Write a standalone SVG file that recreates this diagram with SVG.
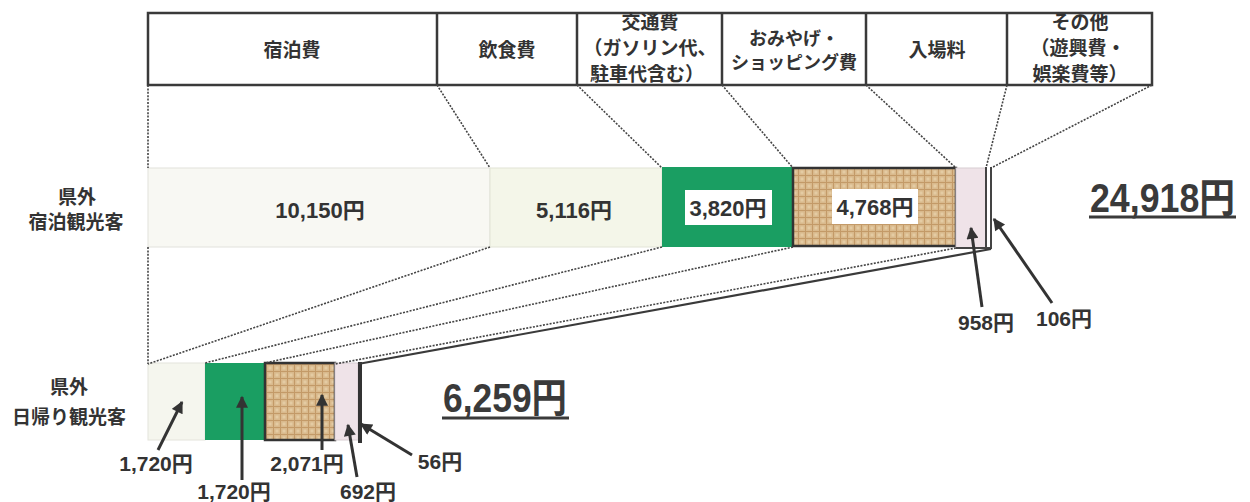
<svg xmlns="http://www.w3.org/2000/svg" width="1250" height="502" viewBox="0 0 1250 502">
<style>
.hd{font-family:"Noto Sans CJK JP","Liberation Sans",sans-serif;font-weight:bold;font-size:19px;fill:#333;text-anchor:middle}
.hd2{font-family:"Noto Sans CJK JP","Liberation Sans",sans-serif;font-weight:bold;font-size:18px;fill:#333;text-anchor:middle}
.lb{font-family:"Noto Sans CJK JP","Liberation Sans",sans-serif;font-weight:bold;font-size:19px;fill:#333;text-anchor:middle}
.num{font-family:"Liberation Sans","Noto Sans CJK JP",sans-serif;font-weight:bold;font-size:22px;fill:#333;text-anchor:middle}
.sm{font-family:"Liberation Sans","Noto Sans CJK JP",sans-serif;font-weight:bold;font-size:21px;fill:#333;text-anchor:middle}
.tot{font-family:"Liberation Sans","Noto Sans CJK JP",sans-serif;font-weight:bold;font-size:40px;fill:#3a3a3a}
.dot{fill:none;stroke:#444;stroke-width:1.6;stroke-dasharray:2 1.4}
.arr{fill:none;stroke:#333;stroke-width:3;marker-end:url(#ah)}
.green{fill:#1a9e62}
.tan{fill:url(#tex);stroke:#333;stroke-width:2.5}
.pink{fill:#efe3e8;stroke:#d8cdd2;stroke-width:1}
.wbox{fill:#fff}
</style>
<defs>
<marker id="ah" viewBox="0 0 10 10" refX="9" refY="5" markerWidth="15" markerHeight="12" markerUnits="userSpaceOnUse" orient="auto">
<path d="M0,0 L10,5 L0,10 z" fill="#333"/>
</marker>
<pattern id="tex" width="7" height="7" patternUnits="userSpaceOnUse">
<rect width="7" height="7" fill="#d9b98c"/>
<path d="M0 0.5H7M0.5 0V7" stroke="#c39a68" stroke-width="1"/>
<rect x="2.5" y="2.5" width="3" height="3" fill="#e4cba3"/>
</pattern>
</defs>

<g id="header">
<rect x="148" y="13" width="1004" height="72" fill="#fff" stroke="#3a3a3a" stroke-width="2.5"/>
<path d="M437 13V85M577 13V85M722 13V85M866 13V85M1007 13V85" stroke="#3a3a3a" stroke-width="2.5"/>
</g>
<g id="h-shukuhaku"><text class="hd" x="292" y="57">宿泊費</text></g>
<g id="h-inshoku"><text class="hd" x="507" y="57">飲食費</text></g>
<g id="h-kotsu"><text class="hd" x="650" y="29">交通費</text><text class="hd" x="650" y="55">（ガソリン代、</text><text class="hd" x="647" y="81">駐車代含む）</text></g>
<g id="h-omiyage"><text class="hd2" x="794" y="45">おみやげ・</text><text class="hd2" x="794" y="69">ショッピング費</text></g>
<g id="h-nyujo"><text class="hd" x="937" y="57">入場料</text></g>
<g id="h-sonota"><text class="hd" x="1080" y="29">その他</text><text class="hd" x="1078" y="55">（遊興費・</text><text class="hd" x="1080" y="81">娯楽費等）</text></g>

<g id="stay-label"><text class="lb" x="77" y="204">県外</text><text class="lb" x="76" y="229">宿泊観光客</text></g>
<g id="stay-shukuhaku"><rect x="148" y="168" width="342" height="79" fill="#f8f8f3" stroke="#e2e2dc" stroke-width="1"/><text class="num" x="320" y="218">10,150円</text></g>
<g id="stay-inshoku"><rect x="490" y="168" width="172" height="79" fill="#f4f6e9" stroke="#e2e4d6" stroke-width="1"/><text class="num" x="574" y="218">5,116円</text></g>
<g id="stay-kotsu"><rect class="green" x="662" y="167" width="131" height="80"/><rect class="wbox" x="685" y="190" width="87" height="35"/><text class="num" x="728" y="216">3,820円</text></g>
<g id="stay-omiyage"><rect class="tan" x="793" y="168" width="163" height="78"/><rect class="wbox" x="832" y="189" width="86" height="35"/><text class="num" x="875" y="215">4,768円</text></g>
<g id="stay-nyujo"><rect class="pink" x="956" y="168" width="30" height="80"/><text class="sm" x="986" y="330">958円</text></g>
<g id="stay-sonota"><path d="M956 248H991V167M986 167V248" fill="none" stroke="#444" stroke-width="2"/><text class="sm" x="1064" y="326">106円</text></g>
<g id="stay-total"><text class="tot" x="1090" y="212" textLength="145" lengthAdjust="spacingAndGlyphs">24,918円</text><line x1="1089" y1="217" x2="1236" y2="217" stroke="#3a3a3a" stroke-width="3"/></g>

<g id="day-label"><text class="lb" x="69" y="394">県外</text><text class="lb" x="69" y="424">日帰り観光客</text></g>
<g id="day-inshoku"><rect x="148" y="363" width="57" height="77" fill="#f5f6ee" stroke="#e4e4dc" stroke-width="1"/><text class="sm" x="156" y="471">1,720円</text></g>
<g id="day-kotsu"><rect class="green" x="205" y="363" width="60" height="77"/><text class="sm" x="234" y="499">1,720円</text></g>
<g id="day-omiyage"><rect class="tan" x="265" y="363" width="70" height="77"/><text class="sm" x="307" y="471">2,071円</text></g>
<g id="day-nyujo"><rect class="pink" x="335" y="363" width="23" height="77"/><text class="sm" x="368" y="499">692円</text></g>
<g id="day-sonota"><line x1="360" y1="362" x2="360" y2="443" stroke="#333" stroke-width="4"/><text class="sm" x="440" y="469">56円</text></g>
<g id="day-total"><text class="tot" x="443" y="412" font-size="38" textLength="124" lengthAdjust="spacingAndGlyphs">6,259円</text><line x1="442" y1="418" x2="569" y2="418" stroke="#3a3a3a" stroke-width="3"/></g>

<g id="connectors">
<path class="dot" d="M148 85V168M437 85L490 168M577 85L662 168M722 85L793 168M866 85L956 168M1007 85L986 168M1152 85L991 168"/>
<path class="dot" d="M148 247V364M490 247L148 364M662 247L205 363M793 247L265 363M956 248L335 364"/>
<path d="M991 249L358 364" stroke="#3a3a3a" stroke-width="2.2" fill="none"/>
<line class="arr" x1="982" y1="307" x2="971" y2="228"/>
<line class="arr" x1="1052" y1="303" x2="994" y2="219"/>
<line class="arr" x1="158" y1="450" x2="182" y2="402"/>
<line class="arr" x1="242" y1="480" x2="242" y2="397"/>
<line class="arr" x1="322" y1="450" x2="322" y2="395"/>
<line class="arr" x1="357" y1="477" x2="348" y2="425"/>
<line class="arr" x1="412" y1="455" x2="361" y2="424"/>
</g>
</svg>
